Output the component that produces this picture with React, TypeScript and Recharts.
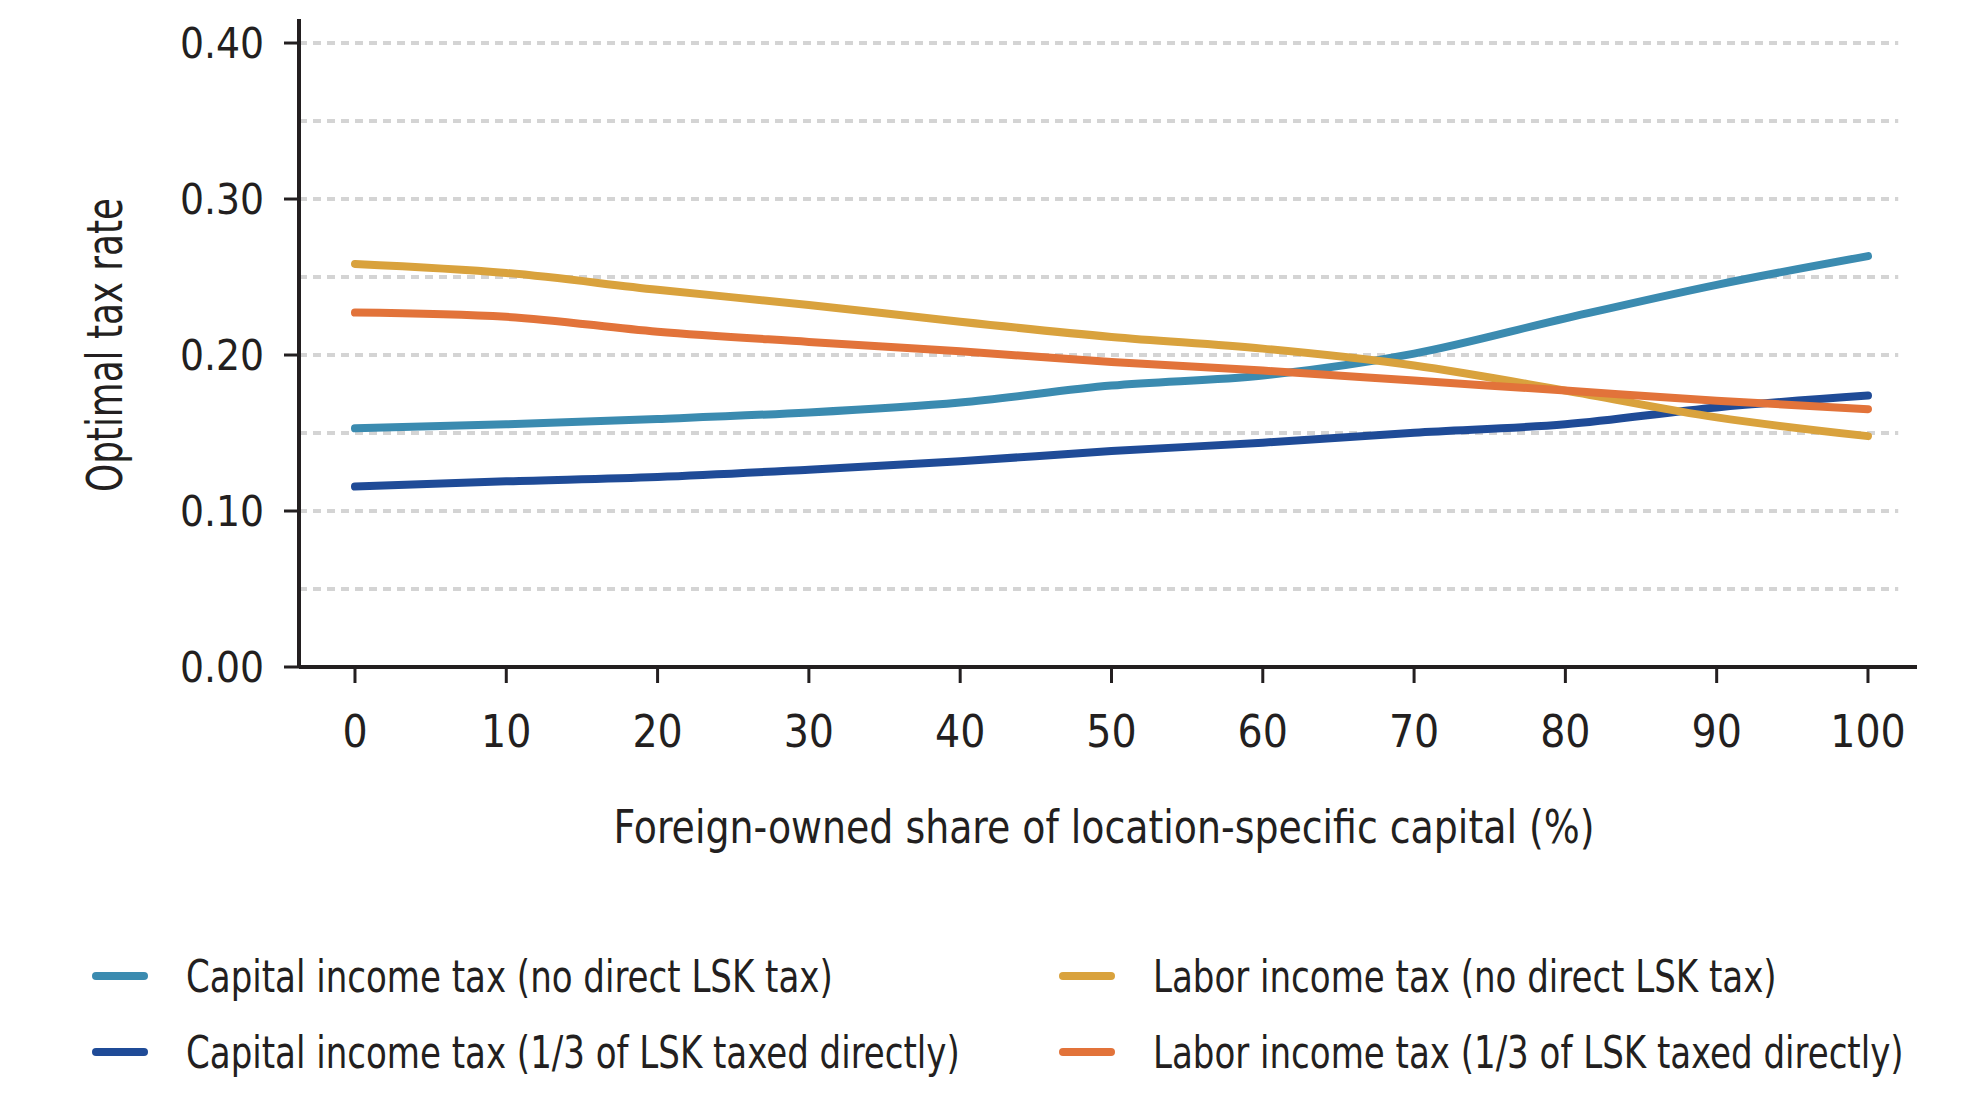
import { LineChart, Line, XAxis, YAxis, ReferenceLine, Legend } from 'recharts';

const shares = [0, 10, 20, 30, 40, 50, 60, 70, 80, 90, 100];
const capitalNoDirect = [0.153, 0.1556, 0.159, 0.1632, 0.1696, 0.1804, 0.1869, 0.2009, 0.2235, 0.245, 0.2634];
const capitalOneThird = [0.1157, 0.119, 0.1218, 0.1265, 0.1319, 0.1384, 0.1438, 0.1502, 0.1556, 0.1664, 0.174];
const laborNoDirect = [0.2584, 0.2526, 0.2418, 0.2321, 0.2213, 0.2116, 0.2041, 0.1933, 0.1772, 0.16, 0.148];
const laborOneThird = [0.2272, 0.2245, 0.2149, 0.2084, 0.2024, 0.1955, 0.19, 0.1836, 0.1772, 0.1707, 0.1653];

const xTicks = [0, 10, 20, 30, 40, 50, 60, 70, 80, 90, 100];
const yTicks = [0, 0.1, 0.2, 0.3, 0.4];
const gridValues = [0.05, 0.1, 0.15, 0.2, 0.25, 0.3, 0.35, 0.4];

const series = [
  { key: 'capNo', name: 'Capital income tax (no direct LSK tax)', color: '#3b8bb0', values: capitalNoDirect },
  { key: 'capThird', name: 'Capital income tax (1/3 of LSK taxed directly)', color: '#1f4b97', values: capitalOneThird },
  { key: 'labNo', name: 'Labor income tax (no direct LSK tax)', color: '#d9a23d', values: laborNoDirect },
  { key: 'labThird', name: 'Labor income tax (1/3 of LSK taxed directly)', color: '#e2733a', values: laborOneThird },
];

const data = shares.map((s, i) => {
  const row: Record<string, number> = { share: s };
  series.forEach((sr) => { row[sr.key] = sr.values[i]; });
  return row;
});

const FONT = "'DejaVu Sans Condensed', 'Noto Sans', sans-serif";
const INK = '#231f20';
const LEGEND_H = 152;

// two columns: capital taxes on the left, labor taxes on the right
function LegendBlock() {
  const cols = [[series[0], series[1]], [series[2], series[3]]];
  return (
    <div style={{ display: 'flex', fontFamily: FONT, color: INK }}>
      {cols.map((col, ci) => (
        <div key={ci} style={{ width: ci === 0 ? 967 : 900, flexShrink: 0 }}>
          {col.map((s) => (
            <div key={s.key} style={{ display: 'flex', alignItems: 'center', height: 76, whiteSpace: 'nowrap' }}>
              <span
                style={{
                  display: 'inline-block',
                  flexShrink: 0,
                  width: 56,
                  height: 8,
                  borderRadius: 4,
                  background: s.color,
                  marginRight: 38,
                }}
              />
              <span
                style={{
                  fontSize: 44,
                  display: 'inline-block',
                  flexShrink: 0,
                  transform: 'scaleX(0.86)',
                  transformOrigin: 'left center',
                }}
              >
                {s.name}
              </span>
            </div>
          ))}
        </div>
      ))}
    </div>
  );
}

export default function App() {
  return (
    <LineChart width={1972} height={1098} data={data} margin={{ top: 11, right: 63, bottom: 0, left: 0 }}>
      {gridValues.map((v) => (
        <ReferenceLine
          key={v}
          segment={[{ x: -3.7, y: v }, { x: 102, y: v }]}
          stroke="#d4d4d4"
          strokeWidth={4}
          strokeDasharray="8 6"
        />
      ))}
      <XAxis
        dataKey="share"
        type="number"
        domain={[-3.7, 103.24]}
        ticks={xTicks}
        height={439 - LEGEND_H}
        axisLine={{ stroke: INK, strokeWidth: 4 }}
        tickLine={{ stroke: INK, strokeWidth: 3 }}
        tickSize={16}
        tickMargin={33}
        tick={{ fill: INK, fontSize: 44, fontFamily: FONT }}
        label={{
          content: ({ viewBox }: any) => (
            <text
              x={viewBox.x + viewBox.width / 2 - 4}
              y={viewBox.y + 160}
              textAnchor="middle"
              dominantBaseline="central"
              textLength={981}
              lengthAdjust="spacingAndGlyphs"
              fill={INK}
              fontSize={46}
              fontFamily={FONT}
            >
              Foreign-owned share of location-specific capital (%)
            </text>
          ),
        }}
      />
      <YAxis
        type="number"
        domain={[0, 0.4154]}
        ticks={yTicks}
        width={291}
        axisLine={{ stroke: INK, strokeWidth: 4 }}
        tickLine={{ stroke: INK, strokeWidth: 3 }}
        tickSize={15}
        tickMargin={20}
        tickFormatter={(v: number) => v.toFixed(2)}
        tick={{ fill: INK, fontSize: 42, fontFamily: FONT }}
        label={{
          content: ({ viewBox }: any) => {
            const cx = viewBox.x + 97;
            const cy = viewBox.y + viewBox.height / 2 + 2;
            return (
              <text
                x={cx}
                y={cy}
                transform={`rotate(-90 ${cx} ${cy})`}
                textAnchor="middle"
                dominantBaseline="central"
                textLength={294}
                lengthAdjust="spacingAndGlyphs"
                fill={INK}
                fontSize={50}
                fontFamily={FONT}
              >
                Optimal tax rate
              </text>
            );
          },
        }}
      />
      {series.map((s) => (
        <Line
          key={s.key}
          type="monotone"
          dataKey={s.key}
          name={s.name}
          stroke={s.color}
          strokeWidth={8}
          strokeLinecap="round"
          dot={false}
          activeDot={false}
          isAnimationActive={false}
        />
      ))}
      <Legend
        content={() => <LegendBlock />}
        wrapperStyle={{ position: 'absolute', left: 84, top: 930, width: 1880, height: LEGEND_H }}
      />
    </LineChart>
  );
}
